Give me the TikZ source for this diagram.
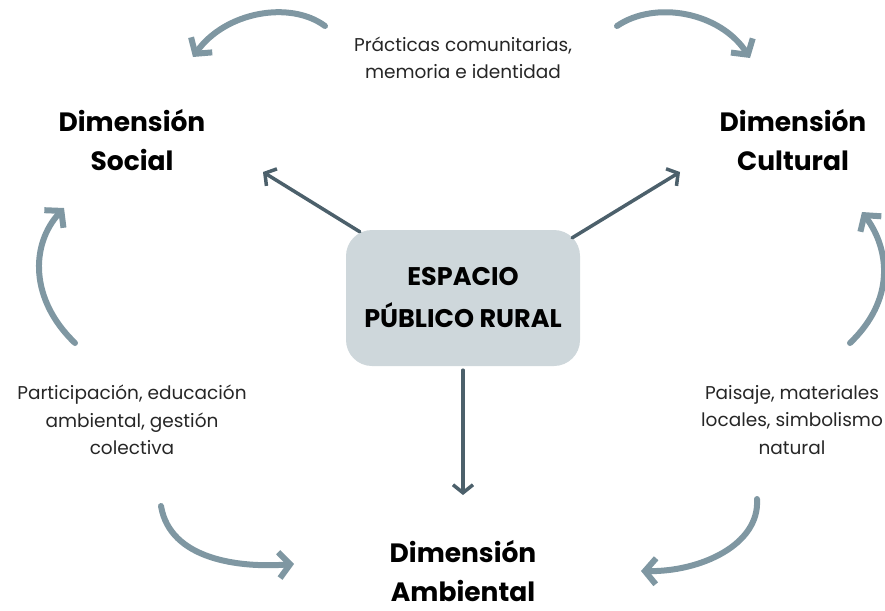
\documentclass[tikz,border=0pt]{standalone}
\usepackage{fontspec}
\setmainfont{Poppins}
\usetikzlibrary{arrows.meta}
\definecolor{curvec}{HTML}{7F97A2}
\definecolor{straightc}{HTML}{4C606B}
\definecolor{boxc}{HTML}{CED7DB}
\tikzset{
  dimlabel/.style={align=center, font=\fontsize{26.5}{39}\selectfont\bfseries, text=black},
  smalllabel/.style={align=center, font=\fontsize{18.5}{27.5}\selectfont, text=black!85},
  centerbox/.style={fill=boxc, rounded corners=26pt, minimum width=234pt, minimum height=136pt, align=center, font=\fontsize{25.5}{42}\selectfont\bfseries},
  curvearrow/.style={draw=curvec, line width=6pt, line cap=round, -{Straight Barb[length=11pt,width=26pt,line width=6pt]}},
  straightarrow/.style={draw=straightc, line width=3.5pt, line cap=round, -{Straight Barb[length=8pt,width=20pt,line width=3.5pt]}}
}
\begin{document}
\begin{tikzpicture}[x=1pt,y=-1pt]
\useasboundingbox (0,0) rectangle (885,610);
\node[centerbox] (center) at (463,298) {ESPACIO\\PÚBLICO RURAL};
\node[dimlabel] (social) at (132,140) {Dimensión\\Social};
\node[dimlabel] (cultural) at (793,140) {Dimensión\\Cultural};
\node[dimlabel, inner sep=1pt] (ambiental) at (463,571) {Dimensión\\Ambiental};
\node[smalllabel] (top) at (463,58) {Prácticas comunitarias,\\memoria e identidad};
\node[smalllabel] (left) at (132,420) {Participación, educación\\ambiental, gestión\\colectiva};
\node[smalllabel] (right) at (792,420) {Paisaje, materiales\\locales, simbolismo\\natural};
% straight arrows
\coordinate (sTip) at (263,172);
\coordinate (cTip) at (680,172);
\coordinate (aTip) at (463,495);
\draw[straightarrow] (center.north west)++(14,2) coordinate (s0) -- (sTip);
\draw[straightarrow] (center.north east)++(-8,8) coordinate (c0) -- (cTip);
\draw[straightarrow] (center.south)++(0,4) coordinate (a0) -- (aTip);
% curved arrows
\coordinate (tl0) at (325,26);
\coordinate (tl1) at (193,57);
\coordinate (tr0) at (617,26);
\coordinate (tr1) at (750,58);
\coordinate (l0) at (75,343);
\coordinate (l1) at (64,208);
\coordinate (r0) at (850,343);
\coordinate (r1) at (862,212);
\coordinate (bl0) at (161,506);
\coordinate (bl1) at (294,564);
\coordinate (br0) at (757,499);
\coordinate (br1) at (641,571);
\draw[curvearrow] (tl0) .. controls (290,0) and (225,12) .. (tl1);
\draw[curvearrow] (tr0) .. controls (655,0) and (720,12) .. (tr1);
\draw[curvearrow] (l0) .. controls (30,300) and (30,245) .. (l1);
\draw[curvearrow] (r0) .. controls (895,300) and (890,250) .. (r1);
\draw[curvearrow] (bl0) .. controls (170,560) and (240,568) .. (bl1);
\draw[curvearrow] (br0) .. controls (760,545) and (700,572) .. (br1);
\end{tikzpicture}
\end{document}
